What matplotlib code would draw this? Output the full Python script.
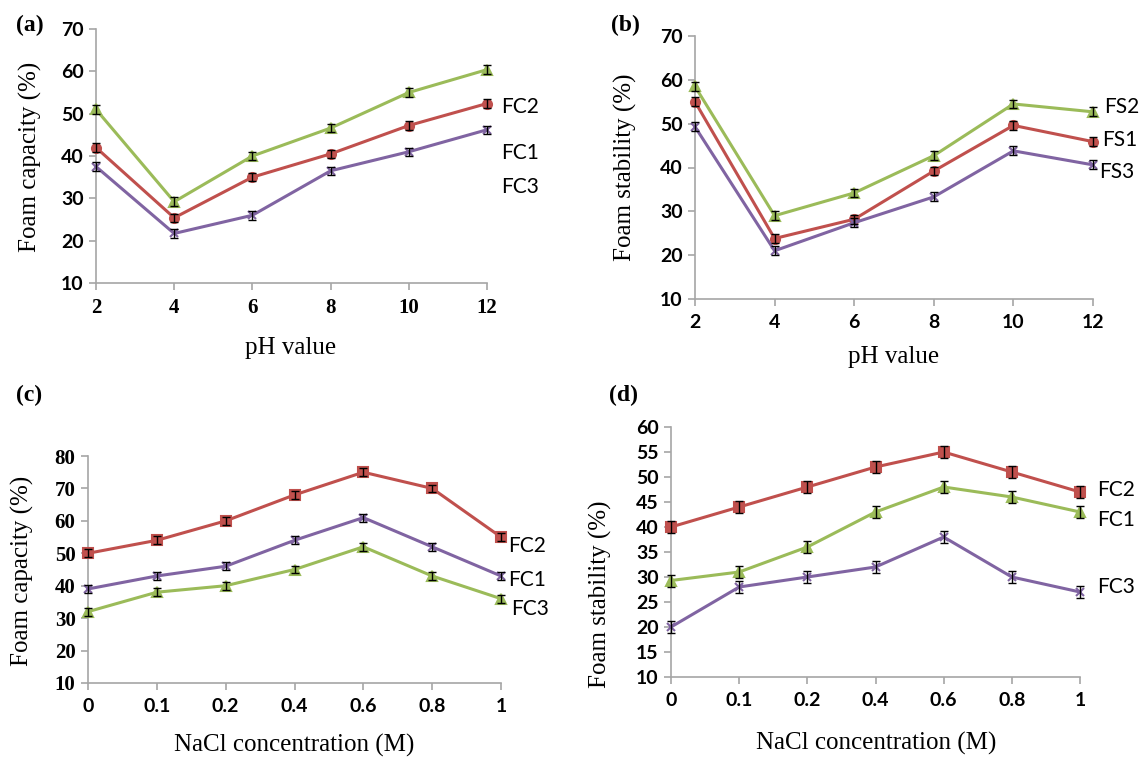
import matplotlib
matplotlib.use("Agg")
import matplotlib.pyplot as plt

# ---------------- data ----------------
ph = [2, 4, 6, 8, 10, 12]
nacl_labels = ["0", "0.1", "0.2", "0.4", "0.6", "0.8", "1"]

# (a) foam capacity vs pH
a_fc2 = [51, 29.2, 40, 46.6, 55, 60.4]
a_fc1 = [42, 25.4, 35, 40.5, 47.2, 52.4]
a_fc3 = [37.5, 21.7, 26, 36.5, 41, 46.2]
a_err = [1, 1, 1, 1, 1, 1]

# (b) foam stability vs pH
b_fs2 = [58.5, 29, 34.2, 42.7, 54.5, 52.7]
b_fs1 = [55, 23.8, 28.2, 39.2, 49.6, 45.9]
b_fs3 = [49.3, 21, 27.4, 33.3, 43.8, 40.6]
b_err = [1, 1, 1, 1, 1, 1]

# (c) foam capacity vs NaCl
c_fc2 = [50, 54, 60, 68, 75, 70, 55]
c_fc1 = [39, 43, 46, 54, 61, 52, 43]
c_fc3 = [32, 38, 40, 45, 52, 43, 36]
c_err = [1.2, 1.2, 1.2, 1.2, 1.2, 1.2, 1.2]

# (d) foam stability vs NaCl
d_fc2 = [40, 44, 48, 52, 55, 51, 47]
d_fc1 = [29.3, 31, 36, 43, 48, 46, 43]
d_fc3 = [20, 28, 30, 32, 38, 30, 27]
d_err = [1.2, 1.2, 1.2, 1.2, 1.2, 1.2, 1.2]

RED = "#C0504D"
GREEN = "#9BBB59"
PURPLE = "#8064A2"
SPINE = "#A6A6A6"
SERIF = "Liberation Serif"
SANS = "Lato"

plt.rcParams["font.family"] = [SANS, "DejaVu Sans"]

W, H = 1141, 758
fig = plt.figure(figsize=(W / 100, H / 100), dpi=100)


def px_axes(l, t, r, b):
    return fig.add_axes([l / W, 1 - b / H, (r - l) / W, (b - t) / H])


def style_ax(ax, ylim, yticks, xticks, xticklabels, xlim, yfam=SANS, xfam=SANS):
    ax.set_ylim(*ylim)
    ax.set_xlim(*xlim)
    ax.set_yticks(yticks)
    ax.set_yticklabels([str(t) for t in yticks], fontweight="bold",
                       fontsize=15 if yfam == SERIF else 14, family=yfam)
    ax.set_xticks(xticks)
    ax.set_xticklabels(xticklabels, fontweight="bold",
                       fontsize=15 if xfam == SERIF else 14, family=xfam)
    for s in ["top", "right"]:
        ax.spines[s].set_visible(False)
    for s in ["left", "bottom"]:
        ax.spines[s].set_color(SPINE)
        ax.spines[s].set_linewidth(1.2)
    ax.tick_params(axis="both", colors=SPINE, length=5, width=1.2, labelcolor="black")
    ax.tick_params(axis="x", pad=6)
    ax.tick_params(axis="y", pad=4)
    ax.set_facecolor("none")


def series(ax, x, y, err, color, marker):
    ax.plot(x, y, color=color, lw=2.2, marker=marker, ms=6.5 if marker != "x" else 6,
            mew=1.5, mfc=color, mec=color, zorder=3, clip_on=False)
    ax.errorbar(x, y, yerr=err, fmt="none", ecolor="black", elinewidth=1.0,
                capsize=3, capthick=1.0, zorder=4, clip_on=False)


def ftext(x, y, s, **kw):
    fig.text(x / W, 1 - y / H, s, **kw)


LBL = dict(family=SERIF, fontsize=18, ha="center", va="center")
PAN = dict(family=SERIF, fontweight="bold", fontsize=17, ha="center", va="center")

# ---- (a) ----
axa = px_axes(96, 29, 487, 283)
series(axa, ph, a_fc2, a_err, GREEN, "^")
series(axa, ph, a_fc1, a_err, RED, "o")
series(axa, ph, a_fc3, a_err, PURPLE, "x")
style_ax(axa, (10, 70), [10, 20, 30, 40, 50, 60, 70], ph, [str(p) for p in ph],
         (2, 12), xfam=SERIF)
axa.text(12.36, 51.6, "FC2", fontsize=15, va="center", ha="left")
axa.text(12.36, 40.7, "FC1", fontsize=15, va="center", ha="left")
axa.text(12.36, 32.7, "FC3", fontsize=15, va="center", ha="left")
ftext(30, 25, "(a)", **PAN)
ftext(291, 348, "pH value", **LBL)
ftext(30, 157, "Foam capacity (%)", rotation=90, **LBL)

# ---- (b) ----
axb = px_axes(695, 36, 1093, 299)
series(axb, ph, b_fs2, b_err, GREEN, "^")
series(axb, ph, b_fs1, b_err, RED, "o")
series(axb, ph, b_fs3, b_err, PURPLE, "x")
style_ax(axb, (10, 70), [10, 20, 30, 40, 50, 60, 70], ph, [str(p) for p in ph],
         (2, 12))
axb.text(12.28, 53.8, "FS2", fontsize=15, va="center", ha="left")
axb.text(12.23, 46.3, "FS1", fontsize=15, va="center", ha="left")
axb.text(12.16, 39.0, "FS3", fontsize=15, va="center", ha="left")
ftext(625, 25, "(b)", **PAN)
ftext(894, 357, "pH value", **LBL)
ftext(625, 167, "Foam stability (%)", rotation=90, **LBL)

# ---- (c) ----
xc = list(range(len(nacl_labels)))
axc = px_axes(88, 456, 501, 683)
series(axc, xc, c_fc2, c_err, RED, "s")
series(axc, xc, c_fc1, c_err, PURPLE, "x")
series(axc, xc, c_fc3, c_err, GREEN, "^")
style_ax(axc, (10, 80), [10, 20, 30, 40, 50, 60, 70, 80], xc, nacl_labels,
         (0, 6), yfam=SERIF)
axc.text(6.1, 52.2, "FC2", fontsize=15, va="center", ha="left")
axc.text(6.1, 41.9, "FC1", fontsize=15, va="center", ha="left")
axc.text(6.14, 32.7, "FC3", fontsize=15, va="center", ha="left")
ftext(29, 395, "(c)", **PAN)
ftext(294, 745, "NaCl concentration (M)", **LBL)
ftext(22, 571, "Foam capacity (%)", rotation=90, **LBL)

# ---- (d) ----
axd = px_axes(671, 427, 1080, 677)
series(axd, xc, d_fc2, d_err, RED, "s")
series(axd, xc, d_fc1, d_err, GREEN, "^")
series(axd, xc, d_fc3, d_err, PURPLE, "x")
style_ax(axd, (10, 60), [10, 15, 20, 25, 30, 35, 40, 45, 50, 55, 60], xc, nacl_labels,
         (0, 6))
axd.text(6.25, 47.4, "FC2", fontsize=15, va="center", ha="left")
axd.text(6.25, 41.4, "FC1", fontsize=15, va="center", ha="left")
axd.text(6.25, 28.0, "FC3", fontsize=15, va="center", ha="left")
ftext(624, 395, "(d)", **PAN)
ftext(876, 743, "NaCl concentration (M)", **LBL)
ftext(600, 594, "Foam stability (%)", rotation=90, **LBL)

fig.savefig("out.png", dpi=100)
